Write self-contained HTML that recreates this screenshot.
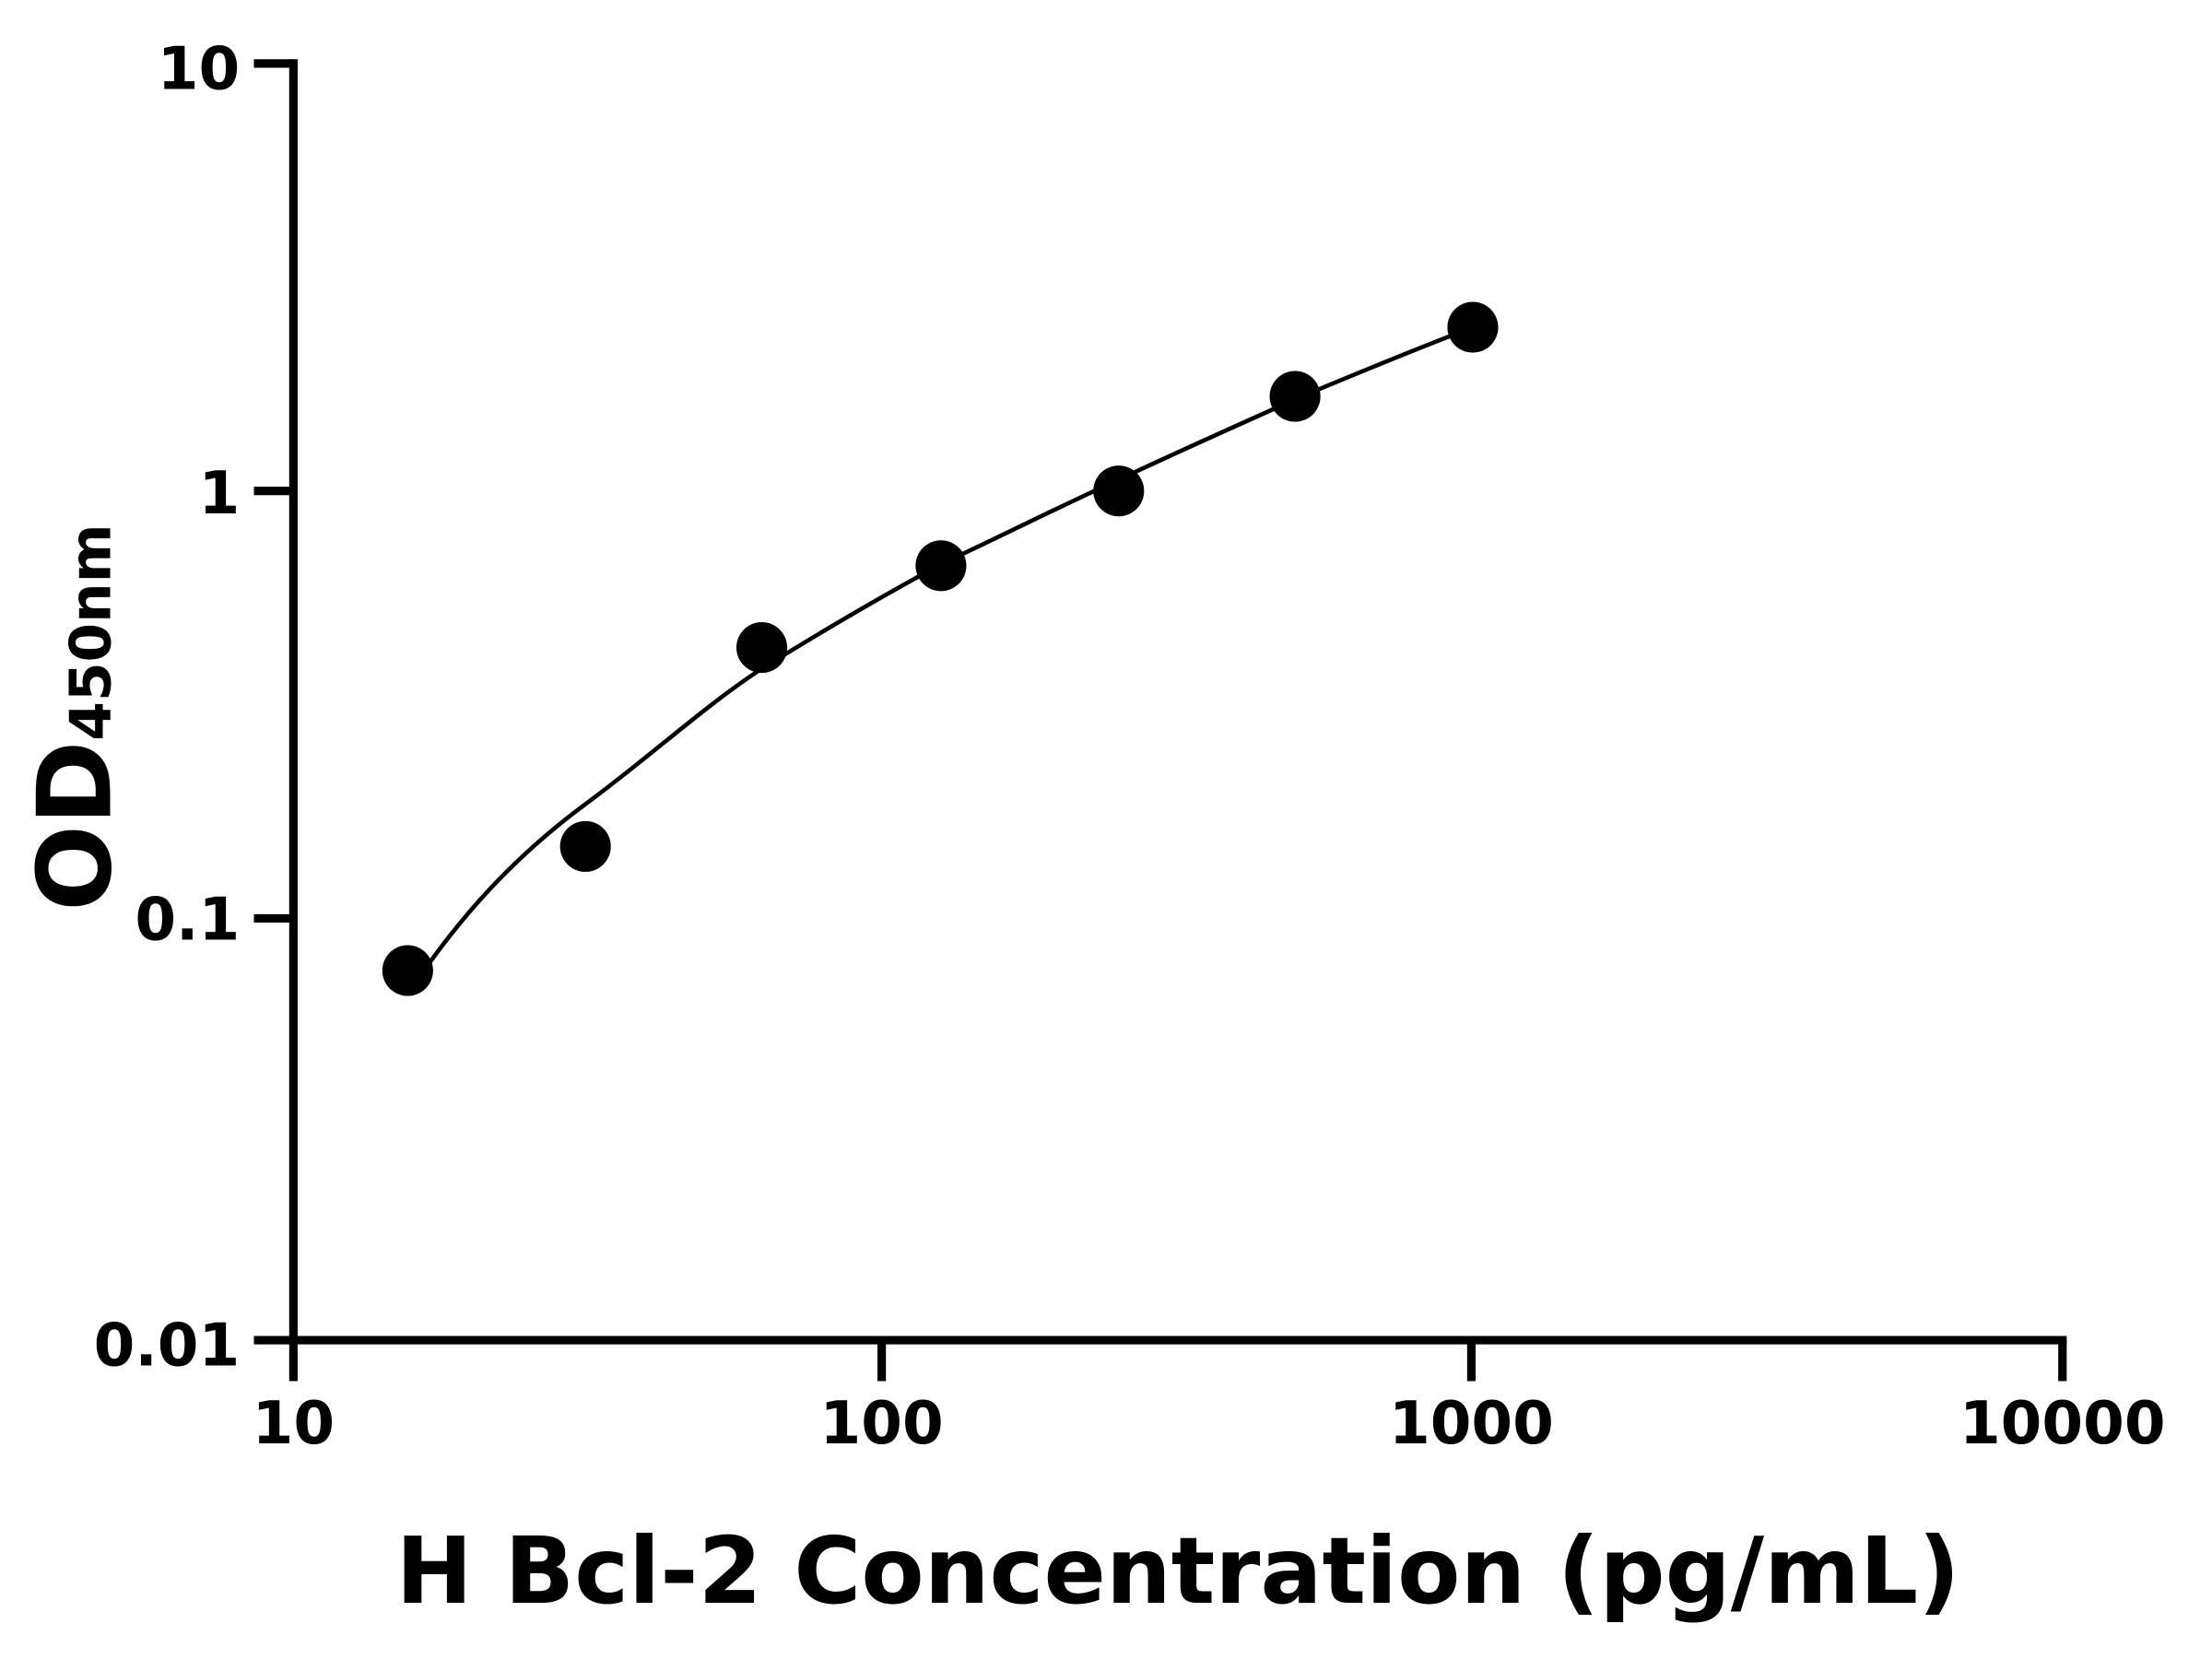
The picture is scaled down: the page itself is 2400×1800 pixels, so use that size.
<!DOCTYPE html>
<html><head><meta charset="utf-8"><style>html,body{margin:0;padding:0;background:#fff}svg{display:block}</style></head>
<body>
<svg width="2400" height="1800" viewBox="0 0 1568 1176" xmlns="http://www.w3.org/2000/svg" font-family="'DejaVu Sans','Liberation Sans',sans-serif" font-weight="bold">
<rect width="1568" height="1176" fill="#fff"/>
<g stroke="#000" stroke-width="6" fill="none" stroke-linecap="butt">
<line x1="208" y1="42" x2="208" y2="953"/>
<line x1="205" y1="950" x2="1465" y2="950"/>
<line x1="180" y1="45" x2="208" y2="45"/>
<line x1="180" y1="348" x2="208" y2="348"/>
<line x1="180" y1="651" x2="208" y2="651"/>
<line x1="180" y1="950" x2="208" y2="950"/>
<line x1="208" y1="950" x2="208" y2="979"/>
<line x1="625" y1="950" x2="625" y2="979"/>
<line x1="1043" y1="950" x2="1043" y2="979"/>
<line x1="1462" y1="950" x2="1462" y2="979"/>
</g>
<path fill="none" stroke="#000" stroke-width="3" d="M289,705 C325,650 365,607 415,570 C460,537 500,500 540,474 C590,443 630,420 667,400 C730,370 760,355 793,340 C855,311 890,296 918,283 C980,257 1010,245 1044,232"/>
<g fill="#000">
<circle cx="289" cy="688" r="18"/>
<circle cx="415" cy="600" r="18"/>
<circle cx="540" cy="459" r="18"/>
<circle cx="667" cy="401" r="18"/>
<circle cx="793" cy="348" r="18"/>
<circle cx="918" cy="281" r="18"/>
<circle cx="1044" cy="232" r="18"/>
</g>
<g font-size="42" text-anchor="end" fill="#000">
<text x="170" y="63">10</text>
<text x="170" y="364">1</text>
<text x="170" y="666">0.1</text>
<text x="170" y="968">0.01</text>
</g>
<g font-size="42" text-anchor="middle" fill="#000">
<text x="208" y="1023">10</text>
<text x="625" y="1023">100</text>
<text x="1043" y="1023">1000</text>
<text x="1462" y="1023">10000</text>
</g>
<text x="835" y="1136" font-size="65" text-anchor="middle" fill="#000">H Bcl-2 Concentration (pg/mL)</text>
<text transform="translate(78,646) rotate(-90)" font-size="72" fill="#000">OD<tspan font-size="40">450nm</tspan></text>
</svg>
</body></html>
